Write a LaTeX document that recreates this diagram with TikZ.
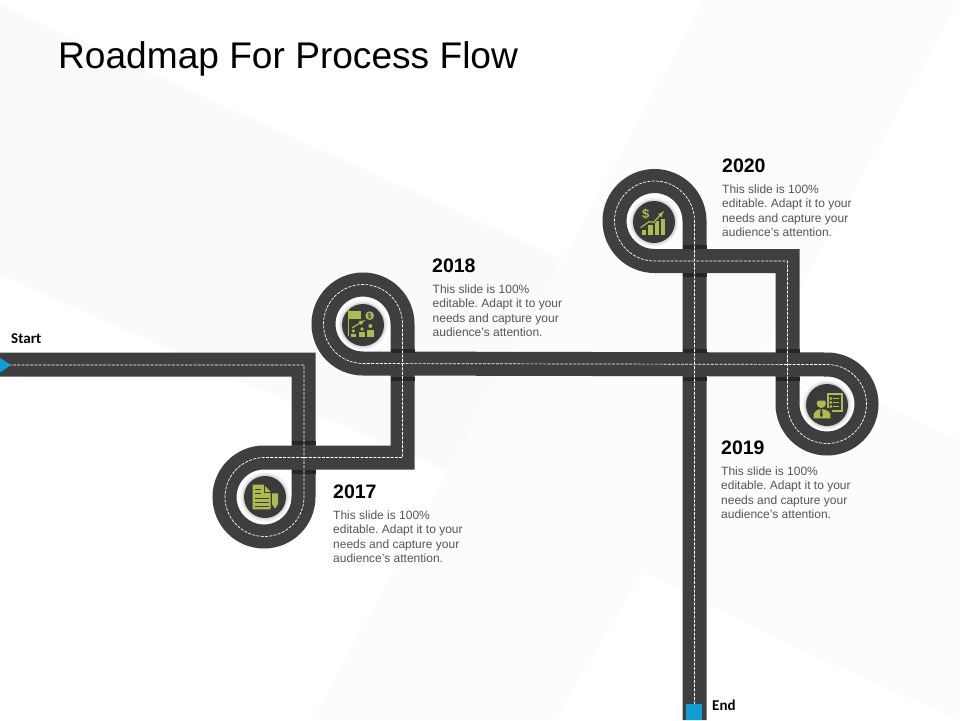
\documentclass[tikz,border=0pt]{standalone}
\usepackage{fontspec}
\setmainfont{Liberation Sans}
\newfontfamily\startfont{Carlito}
\definecolor{roadc}{HTML}{3F3F3F}
\definecolor{bandc}{HTML}{262626}
\definecolor{bluec}{HTML}{0F9ED5}
\definecolor{olivec}{HTML}{AFBB4E}
\definecolor{discc}{HTML}{3A3A3A}
\definecolor{bodyc}{HTML}{555555}
\tikzset{
  road/.style={draw=roadc,line width=24pt,line join=miter},
  roaddash/.style={draw=white,line width=0.7pt,dash pattern=on 3pt off 1.3pt},
  bandbox/.style={fill=bandc,draw=none},
  ttl/.style={anchor=base west,inner sep=0pt,font=\fontsize{37.1}{40}\selectfont,text=black},
  yearlbl/.style={anchor=base west,inner sep=0pt,font=\fontsize{19.5}{22}\bfseries\selectfont,text=black},
  bodylbl/.style={anchor=north west,inner sep=0pt,align=left,font=\fontsize{12}{14.4}\selectfont\frenchspacing,text=bodyc},
  endlbl/.style={anchor=base west,inner sep=0pt,font=\fontsize{15}{17}\startfont\bfseries\selectfont,text=black},
  ic/.style={fill=olivec,draw=none},
  icd/.style={draw=discc,line width=0.8pt},
  icl/.style={draw=olivec,line width=1.2pt},
  iconscope/.style={shift={#1},x=0.3333pt,y=-0.3333pt}
}
\newcommand{\hubdisc}[1]{%
  \fill[white] #1 circle[radius=28];
  \fill[black!6] #1 circle[radius=24.5];
  \fill[black!16] #1 circle[radius=22.5];
  \fill[discc] #1 circle[radius=21];
}
\newcommand{\bandpair}[3]{%
  \fill[bandbox] (#1-12,#2) rectangle (#1+12,#2+4);
  \fill[bandbox] (#1-12,#3) rectangle (#1+12,#3+4);
}
\begin{document}
\begin{tikzpicture}[x=1pt,y=-1pt]
\useasboundingbox (0,0) rectangle (960,720);
\fill[white] (0,0) rectangle (960,720);
% background planes
\fill[black!2] (0,5) -- (563,259) -- (447,471) -- (0,275) -- cycle;
\fill[black!1.2] (704,0) -- (960,0) -- (643,572) -- (555,720) -- (312,720) -- cycle;
\fill[black!1.2] (563,259) -- (960,440) -- (960,720) -- (800,650) -- (643,572) -- cycle;
% hubs
\hubdisc{(265,497)}
\hubdisc{(363,325)}
\hubdisc{(654,222)}
\hubdisc{(827,405)}
% road
\draw[road] (0,364.5) -- (303.5,364.5) -- (303.5,497)
  arc[start angle=0,end angle=270,radius=39.5]
  -- (402.5,457.5) -- (402.5,324)
  arc[start angle=0,end angle=-270,radius=39.5]
  -- (827,364.5)
  arc[start angle=-90,end angle=180,radius=39.5]
  -- (787.5,261) -- (654.5,261)
  arc[start angle=90,end angle=360,radius=40]
  -- (694.5,720);
% dark bands at the crossings
\bandpair{303.5}{441}{469.5}
\bandpair{402.5}{348.5}{376.5}
\bandpair{694.5}{245}{273}
\bandpair{694.5}{348.5}{376.5}
\bandpair{787.5}{348.5}{376.5}
% centre line
\draw[roaddash] (0,365) -- (304,365) -- (304,497)
  arc[start angle=0,end angle=270,radius=39.5]
  -- (402.5,457.5) -- (402.5,324)
  arc[start angle=0,end angle=-270,radius=39.5]
  -- (827,364.5)
  arc[start angle=-90,end angle=180,radius=39.5]
  -- (787.5,261) -- (654.5,261)
  arc[start angle=90,end angle=360,radius=40]
  -- (694.5,720);
% start and end marks
\fill[bluec] (0,358) -- (11,365) -- (0,372.5) -- cycle;
\fill[bluec] (686,703.5) rectangle (702,720);
% texts
\node[ttl] (title) at (58,68) {Roadmap For Process Flow};
\node[endlbl] (startlbl) at (11,343) {Start};
\node[endlbl] (endl) at (712,710) {End};
\node[yearlbl] (y17) at (333,498.5) {2017};
\node[yearlbl] (y18) at (432,272) {2018};
\node[yearlbl] (y19) at (721,454) {2019};
\node[yearlbl] (y20) at (722,172) {2020};
\node[bodylbl] (t17) at (333,510.5) {This slide is 100\%\\editable. Adapt it to your\\needs and capture your\\audience's attention.};
\node[bodylbl] (t18) at (432.5,284.5) {This slide is 100\%\\editable. Adapt it to your\\needs and capture your\\audience's attention.};
\node[bodylbl] (t19) at (721,466.5) {This slide is 100\%\\editable. Adapt it to your\\needs and capture your\\audience's attention.};
\node[bodylbl] (t20) at (722,184.5) {This slide is 100\%\\editable. Adapt it to your\\needs and capture your\\audience's attention.};
% icon 2017: document and pencil
\begin{scope}[iconscope={(240,472)}]
  \fill[ic] (38,38) -- (72,38) -- (92,60) -- (92,112) -- (38,112) -- cycle;
  \draw[discc,line width=0.7pt] (72,38) -- (72,60) -- (92,60);
  \draw[icd] (44,52) -- (64,52) (44,65) -- (64,65) (44,78) -- (86,78) (44,90) -- (86,90) (44,102) -- (86,102);
  \fill[ic] (96,64) -- (114,64) -- (114,96) -- (105,110) -- (96,96) -- cycle;
\end{scope}
% icon 2018: flag, coin, arrow and people
\begin{scope}[iconscope={(338,300)}]
  \fill[ic] (30,30) rectangle (34,108);
  \fill[ic] (34,33) rectangle (70,58);
  \fill[ic] (95,47) circle[radius=13];
  \node[inner sep=0pt,text=discc,font=\fontsize{7}{7}\bfseries\selectfont] (coin) at (95,47) {\$};
  \draw[icl,-latex] (42,84) -- (58,74) -- (82,60);
  \fill[ic] (46,93) circle[radius=5];
  \fill[ic] (38,110) -- (38,103) -- (54,103) -- (54,110) -- cycle;
  \fill[ic] (72,87) circle[radius=5.5];
  \fill[ic] (62,110) -- (62,97) -- (82,97) -- (82,110) -- cycle;
  \fill[ic] (97,78) circle[radius=6];
  \fill[ic] (87,110) -- (87,89) -- (107,89) -- (107,110) -- cycle;
\end{scope}
% icon 2020: rising bars
\begin{scope}[iconscope={(629,197)}]
  \node[inner sep=0pt,text=olivec,font=\fontsize{13}{13}\bfseries\selectfont] (dollar) at (50,52) {\$};
  \fill[ic] (38,98) rectangle (52,115);
  \fill[ic] (58,85) rectangle (72,115);
  \fill[ic] (78,72) rectangle (90,115);
  \fill[ic] (95,65) rectangle (107,115);
  \draw[discc,line width=2.6pt] (35,92) -- (60,74) -- (74,76) -- (100,48);
  \draw[icl,-latex] (35,92) -- (60,74) -- (74,76) -- (105,42);
\end{scope}
% icon 2019: person and checklist
\begin{scope}[iconscope={(802,380)}]
  \fill[ic] (75,38) rectangle (122,97);
  \fill[discc] (81,45) rectangle (116,91);
  \draw[icl] (94,56) -- (112,56) (94,68) -- (112,68) (94,80) -- (112,80);
  \fill[ic] (83,52) rectangle (90,59) (83,64) rectangle (90,71) (83,76) rectangle (90,83);
  \fill[discc] (58,70) circle[radius=18];
  \fill[ic] (58,70) circle[radius=14];
  \fill[discc] (47,62) -- (68,62) -- (70,57) -- (46,57) -- cycle;
  \fill[discc] (76,84) rectangle (90,118);
  \fill[ic] (35,115) -- (35,102) .. controls (36,94) and (45,91) .. (50,88) -- (66,88) .. controls (75,91) and (84,94) .. (85,102) -- (85,115) -- cycle;
  \fill[discc] (56,88) -- (60,88) -- (62,106) -- (58,112) -- (54,106) -- cycle;
\end{scope}
\end{tikzpicture}
\end{document}
